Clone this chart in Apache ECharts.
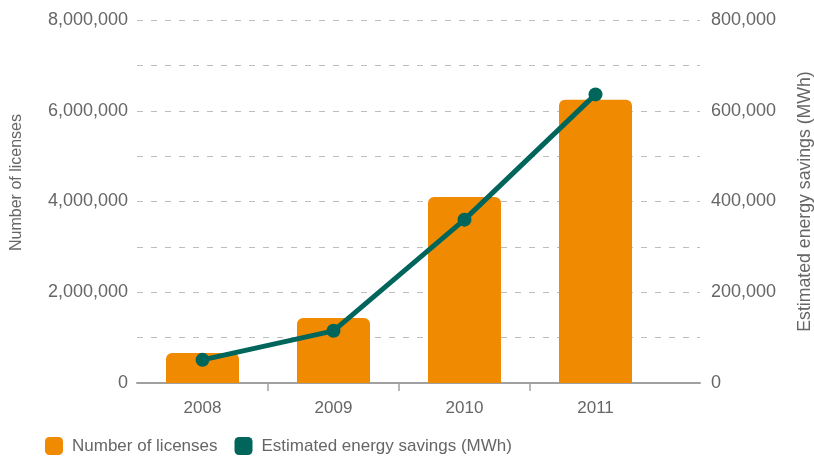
<!DOCTYPE html>
<html>
<head>
<meta charset="utf-8">
<style>
  html, body { margin: 0; padding: 0; background: #fff; }
  #chart { width: 814px; height: 456px; }
</style>
<script src="https://cdn.jsdelivr.net/npm/echarts@6/dist/echarts.min.js"></script>
</head>
<body>
<div id="chart"></div>
<script>
// Licences issued per year and the energy they are estimated to save
const years = ['2008', '2009', '2010', '2011'];
const licenses = [660000, 1430000, 4100000, 6240000];
const energySavings = [51000, 115000, 360000, 636000];

const leftTickLabels = ['0', '2,000,000', '4,000,000', '6,000,000', '8,000,000'];
const rightTickLabels = ['0', '200,000', '400,000', '600,000', '800,000'];

const ORANGE = '#F08A00';
const TEAL = '#00665C';
const TEXT = '#666666';
const FONT = '"Liberation Sans", Arial, Helvetica, sans-serif';

const chart = echarts.init(document.getElementById('chart'), null, { renderer: 'canvas' });

chart.setOption({
  animation: false,
  textStyle: { fontFamily: FONT },
  grid: [
    // plot area holding the bars and the line
    { left: 137, right: 153, top: 20, bottom: 73, containLabel: false, outerBoundsMode: 'none' },
    // wider frame for the gridlines, value axes and baseline
    { left: 137, right: 114, top: 20, bottom: 73, containLabel: false, outerBoundsMode: 'none' },
    // thin strip under the baseline for the category separators
    { left: 137, right: 153, top: 383, height: 8, containLabel: false, outerBoundsMode: 'none' }
  ],
  xAxis: [
    {
      gridIndex: 0, type: 'category', data: years,
      axisLine: { show: false }, axisTick: { show: false },
      axisLabel: { color: TEXT, fontSize: 17, margin: 17, fontFamily: FONT }
    },
    {
      gridIndex: 1, type: 'value', min: 0, max: 1,
      axisLine: { show: true, lineStyle: { color: '#a0a0a0', width: 2 } },
      axisTick: { show: false }, axisLabel: { show: false }, splitLine: { show: false }
    },
    {
      gridIndex: 2, type: 'category', data: years,
      axisLine: { show: false }, axisTick: { show: false }, axisLabel: { show: false },
      splitLine: {
        show: true, showMinLine: false, showMaxLine: false,
        lineStyle: { color: '#a0a0a0', width: 1.5 }
      }
    }
  ],
  yAxis: [
    { gridIndex: 0, type: 'value', min: 0, max: 8000000, show: false },
    { gridIndex: 0, type: 'value', min: 0, max: 800000, show: false },
    {
      gridIndex: 1, type: 'value', position: 'left', min: 0, max: 8000000, interval: 1000000,
      name: 'Number of licenses', nameLocation: 'middle', nameGap: 112, nameRotate: 90,
      nameTextStyle: { color: TEXT, fontSize: 16, fontFamily: FONT, padding: [0, 0, 0, 38] },
      axisLine: { show: false }, axisTick: { show: false },
      axisLabel: {
        color: TEXT, fontSize: 18, margin: 9, fontFamily: FONT,
        formatter: v => (v % 2000000 === 0 ? leftTickLabels[v / 2000000] : '')
      },
      splitLine: { show: true, lineStyle: { color: '#bdbdbd', width: 1.2, type: [6, 8] } }
    },
    {
      gridIndex: 1, type: 'value', position: 'right', min: 0, max: 800000, interval: 100000,
      name: 'Estimated energy savings (MWh)', nameLocation: 'middle', nameGap: 96, nameRotate: 90,
      nameTextStyle: { color: TEXT, fontSize: 17.7, fontFamily: FONT },
      axisLine: { show: false }, axisTick: { show: false },
      axisLabel: {
        color: TEXT, fontSize: 18, margin: 11, fontFamily: FONT,
        formatter: v => (v % 200000 === 0 ? rightTickLabels[v / 200000] : '')
      },
      splitLine: { show: false }
    },
    { gridIndex: 2, type: 'value', min: 0, max: 1, show: false }
  ],
  legend: {
    left: 45, top: 437, padding: 0, itemWidth: 18, itemHeight: 18, itemGap: 17,
    icon: 'roundRect',
    textStyle: { color: TEXT, fontSize: 17, fontFamily: FONT, padding: [0, 0, 0, 4] },
    data: ['Number of licenses', 'Estimated energy savings (MWh)']
  },
  series: [
    {
      name: 'Number of licenses', type: 'bar', xAxisIndex: 0, yAxisIndex: 0,
      data: licenses, barWidth: 73,
      itemStyle: { color: ORANGE, borderRadius: [6, 6, 0, 0] }
    },
    {
      name: 'Estimated energy savings (MWh)', type: 'line', xAxisIndex: 0, yAxisIndex: 1,
      data: energySavings, symbol: 'circle', symbolSize: 14,
      lineStyle: { color: TEAL, width: 5 },
      itemStyle: { color: TEAL },
      z: 5
    }
  ]
});
</script>
</body>
</html>
